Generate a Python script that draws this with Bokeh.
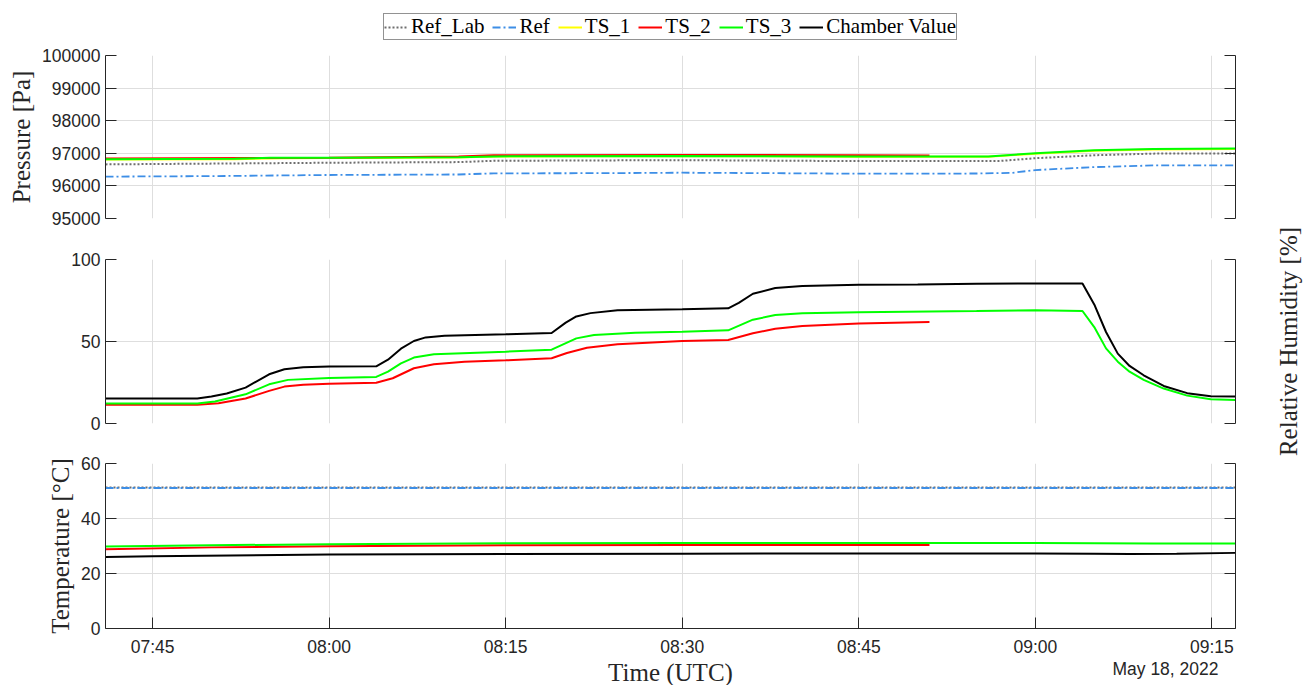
import math
import pandas as pd
from bokeh.plotting import figure
from bokeh.layouts import column, row
from bokeh.models import (Range1d, LinearAxis, FixedTicker, DatetimeTickFormatter,
                          BasicTickFormatter, Legend, LegendItem)
from bokeh.core.properties import value
from bokeh.embed import file_html
from bokeh.resources import INLINE

# ---------------- data ----------------
DATE = "2022-05-18"
x_limits = ["07:41:00", "09:17:00"]
x_ticks = ["07:45:00", "08:00:00", "08:15:00", "08:30:00", "08:45:00", "09:00:00", "09:15:00"]
date_label = "May 18, 2022"
x_title = "Time (UTC)"
rh_title = "Relative Humidity [%]"
series_names = ["Ref_Lab", "Ref", "TS_1", "TS_2", "TS_3", "Chamber Value"]

# Pressure [Pa]
p_ref_lab_t = ["07:41:00", "08:00:00", "08:11:00", "08:14:00", "08:30:00", "08:45:00", "08:57:00", "09:00:00", "09:05:00", "09:10:00", "09:17:00"]
p_ref_lab = [96660, 96710, 96730, 96770, 96790, 96760, 96765, 96850, 96940, 96990, 96995]
p_ref_t = ["07:41:00", "07:50:00", "08:00:00", "08:11:00", "08:14:00", "08:23:00", "08:30:00", "08:45:00", "08:55:00", "08:58:00", "09:00:00", "09:05:00", "09:10:00", "09:17:00"]
p_ref = [96285, 96300, 96335, 96350, 96385, 96390, 96405, 96375, 96380, 96400, 96486, 96577, 96627, 96627]
p_ts1_t = ["07:41:00", "07:52:00", "07:56:00", "08:00:00", "08:11:00", "08:14:00", "08:30:00", "08:45:00", "08:56:00", "09:00:00", "09:05:00", "09:10:00", "09:17:00"]
p_ts1 = [96810, 96815, 96850, 96855, 96870, 96900, 96915, 96895, 96895, 96985, 97075, 97120, 97135]
p_ts2_t = ["07:41:00", "08:00:00", "08:11:00", "08:14:00", "08:30:00", "08:45:00", "08:51:00"]
p_ts2 = [96840, 96860, 96900, 96940, 96950, 96940, 96930]
p_ts3_t = ["07:41:00", "07:52:00", "07:55:00", "08:00:00", "08:11:00", "08:14:00", "08:30:00", "08:45:00", "08:56:00", "09:00:00", "09:05:00", "09:10:00", "09:17:00"]
p_ts3 = [96820, 96830, 96860, 96860, 96880, 96905, 96920, 96900, 96905, 97000, 97093, 97134, 97144]
p_ticks = [95000, 96000, 97000, 98000, 99000, 100000]

# Relative humidity [%]
rh_ch_t = ["07:41:00", "07:48:48", "07:50:00", "07:51:18", "07:52:54", "07:54:54", "07:56:12", "07:57:48", "08:00:00", "08:04:00",
           "08:05:00", "08:06:06", "08:07:12", "08:08:12", "08:09:48", "08:15:00", "08:18:54", "08:20:06", "08:21:00", "08:22:12",
           "08:24:30", "08:30:00", "08:33:54", "08:34:48", "08:36:00", "08:37:54", "08:40:12", "08:45:00", "08:50:00", "08:55:00",
           "09:00:00", "09:04:00", "09:05:00", "09:06:00", "09:07:00", "09:08:00", "09:09:12", "09:10:54", "09:12:54", "09:14:54", "09:17:00"]
rh_ch = [15.2, 15.2, 16.4, 18.3, 21.9, 30.0, 33.1, 34.3, 34.7, 34.9,
         38.9, 45.6, 50.3, 52.5, 53.5, 54.4, 55.2, 61.5, 65.3, 67.3,
         69.0, 69.6, 70.2, 73.6, 79.1, 82.6, 83.8, 84.6, 84.8, 85.2,
         85.4, 85.4, 72.6, 55.8, 42.6, 35.1, 29.4, 22.9, 18.5, 16.6, 16.4]
rh_ts3_t = ["07:41:00", "07:48:48", "07:50:18", "07:52:54", "07:54:54", "07:56:30", "08:00:00", "08:04:00", "08:05:00", "08:06:06",
            "08:07:12", "08:08:54", "08:15:00", "08:18:54", "08:21:00", "08:22:30", "08:26:00", "08:30:00", "08:33:54", "08:36:00",
            "08:37:54", "08:40:12", "08:45:00", "08:55:00", "09:00:00", "09:04:00", "09:05:00", "09:06:00", "09:07:00", "09:08:00",
            "09:09:12", "09:10:54", "09:12:54", "09:14:54", "09:17:00"]
rh_ts3 = [12.2, 12.2, 13.4, 17.8, 23.9, 26.6, 27.8, 28.4, 31.6, 36.7,
          40.2, 42.2, 43.8, 45.0, 51.9, 54.0, 55.4, 56.0, 56.8, 63.3,
          66.1, 67.3, 67.9, 68.6, 69.0, 68.6, 58.8, 45.8, 37.7, 31.6,
          26.6, 21.3, 17.0, 14.8, 14.4]
rh_ts2_t = ["07:41:00", "07:48:48", "07:50:36", "07:52:54", "07:54:54", "07:56:12", "07:57:48", "08:00:00", "08:04:00", "08:05:24",
            "08:07:12", "08:08:54", "08:11:30", "08:15:00", "08:18:54", "08:20:12", "08:21:54", "08:24:30", "08:30:00", "08:33:54",
            "08:36:00", "08:37:54", "08:40:12", "08:45:00", "08:51:00"]
rh_ts2 = [11.4, 11.4, 12.4, 15.2, 19.9, 22.5, 23.7, 24.3, 24.9, 27.6,
          33.7, 36.1, 37.7, 38.5, 39.8, 43.0, 46.2, 48.3, 50.3, 50.9,
          55.0, 57.8, 59.4, 60.9, 61.9]
rh_ticks = [0, 50, 100]

# Temperature [degC]
t_ref_lab_t = ["07:41:00", "09:17:00"]
t_ref_lab = [51.3, 51.3]
t_ref_t = ["07:41:00", "09:17:00"]
t_ref = [51.1, 51.1]
t_ts2_t = ["07:41:00", "07:50:00", "08:00:00", "08:15:00", "08:30:00", "08:51:00"]
t_ts2 = [28.8, 29.5, 29.9, 30.3, 30.4, 30.4]
t_ts3_t = ["07:41:00", "07:50:00", "08:00:00", "08:15:00", "08:30:00", "08:45:00", "09:00:00", "09:05:00", "09:10:00", "09:17:00"]
t_ts3 = [29.8, 30.3, 30.6, 31.0, 31.1, 31.1, 31.1, 31.0, 30.9, 30.9]
t_ch_t = ["07:41:00", "07:45:00", "08:00:00", "08:15:00", "08:30:00", "08:45:00", "09:00:00", "09:05:00", "09:08:00", "09:12:00", "09:17:00"]
t_ch = [26.0, 26.3, 26.9, 27.1, 27.2, 27.3, 27.3, 27.2, 27.1, 27.2, 27.5]
t_ticks = [0, 20, 40, 60]

# ---------------- helpers ----------------
def tt(lst):
    return pd.to_datetime([f"{DATE} {t}" for t in lst])

def ms(lst):
    return [float(pd.Timestamp(f"{DATE} {t}").value // 10**6) for t in lst]

COLORS = {"Ref_Lab": "#6e6e6e", "Ref": "#3d8ee6", "TS_1": "#ffff00",
          "TS_2": "#ff0000", "TS_3": "#00ff00", "Chamber Value": "#000000"}

def style(name):
    if name == "Ref_Lab":
        return dict(line_color=COLORS[name], line_width=2, line_dash="2 2")
    if name == "Ref":
        return dict(line_color=COLORS[name], line_width=1.8, line_dash="8 3 2 3")
    return dict(line_color=COLORS[name], line_width=2)

TXT = "#262626"
GRID = "#dedede"
W_TOTAL = 1306
SIDE = 35
W = W_TOTAL - SIDE
BL, BR = 105, 36
xr = Range1d(start=pd.Timestamp(f"{DATE} {x_limits[0]}").to_pydatetime(),
             end=pd.Timestamp(f"{DATE} {x_limits[1]}").to_pydatetime())
xt = ms(x_ticks)

def style_axis(ax, ticks, show_labels=True, fmt=None):
    ax.ticker = FixedTicker(ticks=ticks)
    if fmt is not None:
        ax.formatter = fmt
    ax.major_tick_in = 11
    ax.major_tick_out = 0
    ax.minor_tick_line_color = None
    ax.axis_line_color = TXT
    ax.major_tick_line_color = TXT
    ax.major_label_text_font = "Liberation Sans"
    ax.major_label_text_font_size = "17.5px"
    ax.major_label_text_color = TXT
    ax.major_label_standoff = 5
    ax.axis_label_text_font = "Liberation Serif"
    ax.axis_label_text_font_size = "25px"
    ax.axis_label_text_font_style = "normal"
    ax.axis_label_text_color = TXT
    ax.axis_label_standoff = 4
    if not show_labels:
        ax.major_label_overrides = {t: "" for t in ticks}

def make_fig(height, btop, bbot, yr, yticks, x_axis, ylabel=None, yfmt=None):
    p = figure(width=W, height=height, x_axis_type="datetime", x_range=xr,
               y_range=Range1d(*yr), output_backend="svg", toolbar_location=None,
               x_axis_location="below" if x_axis else None,
               min_border_left=BL, min_border_right=BR,
               min_border_top=btop, min_border_bottom=bbot)
    p.outline_line_color = None
    p.background_fill_color = "white"
    p.border_fill_color = "white"
    style_axis(p.yaxis[0], yticks, True, yfmt)
    if ylabel:
        p.yaxis[0].axis_label = ylabel
    rax = LinearAxis()
    style_axis(rax, yticks, False)
    p.add_layout(rax, "right")
    for g in p.xgrid:
        g.ticker = FixedTicker(ticks=xt)
    for g in p.ygrid:
        g.ticker = FixedTicker(ticks=yticks)
    p.xgrid.grid_line_color = GRID
    p.ygrid.grid_line_color = GRID
    p.xgrid.grid_line_width = 1
    p.ygrid.grid_line_width = 1
    return p

def bare_fig(width, height, x_range, y_range):
    f = figure(width=width, height=height, x_range=x_range, y_range=y_range,
               output_backend="svg", toolbar_location=None, x_axis_location=None,
               y_axis_location=None, min_border=0)
    f.outline_line_color = None
    f.grid.visible = False
    f.background_fill_color = "white"
    f.border_fill_color = "white"
    return f

# ---------------- legend header ----------------
HEAD = 44
header = bare_fig(W, HEAD, xr, Range1d(0, 1))  # series lie outside this y-range: only the legend shows
h_series = [(p_ref_lab_t, p_ref_lab), (p_ref_t, p_ref), (p_ts1_t, p_ts1),
            (p_ts2_t, p_ts2), (p_ts3_t, p_ts3), (rh_ch_t, rh_ch)]
h_rend = [header.line(tt(t), v, **style(n)) for n, (t, v) in zip(series_names, h_series)]
legend = Legend(items=[LegendItem(label=n, renderers=[r]) for n, r in zip(series_names, h_rend)],
                location=(278, HEAD - 40), orientation="horizontal",
                label_text_font="Liberation Serif", label_text_font_size="21px",
                label_text_color="#000000", glyph_width=24, glyph_height=14,
                label_height=14, label_standoff=3, spacing=8, padding=0, margin=0,
                border_line_color=TXT, border_line_width=1,
                background_fill_color="white", background_fill_alpha=1)
header.add_layout(legend, "center")

# ---------------- pressure ----------------
p1 = make_fig(55 - HEAD + 163 + 20, 55 - HEAD, 20, (95000, 100000), p_ticks, False,
              "Pressure [Pa]", BasicTickFormatter(use_scientific=False))
p1.line(tt(p_ref_lab_t), p_ref_lab, **style("Ref_Lab"))
p1.line(tt(p_ref_t), p_ref, **style("Ref"))
p1.line(tt(p_ts1_t), p_ts1, **style("TS_1"))
p1.line(tt(p_ts2_t), p_ts2, **style("TS_2"))
p1.line(tt(p_ts3_t), p_ts3, **style("TS_3"))

# ---------------- humidity ----------------
p2 = make_fig(205, 21, 20, (0, 100), rh_ticks, False)
p2.line(tt(rh_ts2_t), rh_ts2, **style("TS_2"))
p2.line(tt(rh_ts3_t), rh_ts3, **style("TS_3"))
p2.line(tt(rh_ch_t), rh_ch, **style("Chamber Value"))

# ---------------- temperature ----------------
p3 = make_fig(216, 20, 31, (0, 60), t_ticks, True, "Temperature [°C]")
p3.line(tt(t_ref_lab_t), t_ref_lab, **style("Ref_Lab"))
p3.line(tt(t_ref_t), t_ref, **style("Ref"))
p3.line(tt(t_ts2_t), t_ts2, **style("TS_2"))
p3.line(tt(t_ts3_t), t_ts3, **style("TS_3"))
p3.line(tt(t_ch_t), t_ch, **style("Chamber Value"))
xa = p3.xaxis[0]
style_axis(xa, xt, True, DatetimeTickFormatter(minutes="%H:%M", hourmin="%H:%M",
                                               hours="%H:%M", minsec="%H:%M"))
xa.major_label_standoff = 8

# ---------------- footer texts (frame is aligned with the plots above: 105..1235) ----------------
FOOT = 685 - (HEAD + (55 - HEAD + 163 + 20) + 205 + 216)
footer = bare_fig(W, FOOT, Range1d(BL, W - BR), Range1d(0, FOOT))
footer.text(x=[670], y=[13], text=[x_title], text_align="center", text_baseline="alphabetic",
            text_font=value("Liberation Serif"), text_font_size="25px", text_color=TXT)
footer.text(x=[1218], y=[16.5], text=[date_label], text_align="right", text_baseline="alphabetic",
            text_font=value("Liberation Sans"), text_font_size="17.5px", text_color=TXT)

# ---------------- right-hand humidity title ----------------
side = bare_fig(SIDE, 685, Range1d(0, SIDE), Range1d(0, 685))
side.text(x=[17], y=[685 - 341], text=[rh_title], angle=math.pi / 2,
          text_align="center", text_baseline="middle",
          text_font=value("Liberation Serif"), text_font_size="25px", text_color=TXT)

layout = row(column(header, p1, p2, p3, footer, spacing=0), side, spacing=0)
open("out.html", "w").write(file_html(layout, INLINE))
